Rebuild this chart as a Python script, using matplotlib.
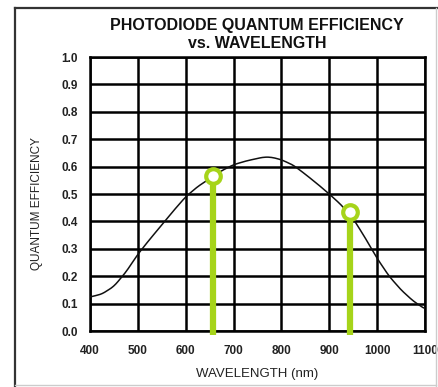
import numpy as np
import matplotlib
matplotlib.use("Agg")
import matplotlib.pyplot as plt
from matplotlib.lines import Line2D

# quantum efficiency curve read at these wavelengths (nm)
wavelength = [400, 425, 450, 475, 500, 525, 550, 575, 600, 625, 650, 675, 700, 725, 750,
              765, 780, 800, 825, 850, 875, 900, 925, 950, 975, 1000, 1025, 1050, 1075, 1100]
efficiency = [0.124, 0.135, 0.163, 0.215, 0.28, 0.335, 0.387, 0.44, 0.49, 0.527, 0.556, 0.585,
              0.607, 0.62, 0.63, 0.635, 0.634, 0.625, 0.605, 0.572, 0.537, 0.50, 0.46, 0.41,
              0.34, 0.265, 0.20, 0.15, 0.11, 0.08]

# highlighted operating points
marker_wl = [657, 943]
marker_qe = [0.567, 0.434]

x_ticks = [400, 500, 600, 700, 800, 900, 1000, 1100]
y_ticks = [0.0, 0.1, 0.2, 0.3, 0.4, 0.5, 0.6, 0.7, 0.8, 0.9, 1.0]

green = '#a6d41a'
plt.rcParams['font.family'] = ['Liberation Sans', 'DejaVu Sans']

fig = plt.figure(figsize=(4.38, 3.87), dpi=100)
ax = fig.add_axes([0.2055, 0.1447, 0.7648, 0.708])

# light smoothing of the sampled points for drawing
xs = np.linspace(400, 1100, 300)
ys = np.interp(xs, wavelength, efficiency)
k = np.ones(7) / 7
ys_s = np.convolve(np.pad(ys, 3, mode='edge'), k, mode='valid')
ax.plot(xs, ys_s, color='#111111', lw=1.1, zorder=3)

for wl, qe in zip(marker_wl, marker_qe):
    ax.plot([wl, wl], [-0.016, qe - 0.02], color=green, lw=4.5, solid_capstyle='butt',
            clip_on=False, zorder=4)
    ax.plot(wl, qe, 'o', ms=10.5, mfc='white', mec=green, mew=3, zorder=5)

ax.set_xlim(400, 1100)
ax.set_ylim(0, 1.0)
ax.set_xticks(x_ticks)
ax.set_yticks(y_ticks)
ax.set_yticklabels(['%.1f' % v for v in y_ticks])
ax.grid(True, color='black', lw=1.8)
ax.set_axisbelow(True)
for s in ax.spines.values():
    s.set_linewidth(1.8)
ax.tick_params(length=0, labelsize=8.5, pad=10)
ax.tick_params(axis='y', pad=9)
for lab in ax.get_xticklabels() + ax.get_yticklabels():
    lab.set_fontweight('bold')
    lab.set_color('#222222')

ax.set_xlabel('WAVELENGTH (nm)', fontsize=9.5, labelpad=8, color='#222222')
ax.set_ylabel('QUANTUM EFFICIENCY', fontsize=8.5, color='#222222')
ax.yaxis.set_label_coords(-0.14, 0.465)

fig.text(0.587, 0.912, 'PHOTODIODE QUANTUM EFFICIENCY\nvs. WAVELENGTH', ha='center',
         va='center', fontsize=11.5, fontweight='bold', linespacing=1.25, color='#111111')

# page frame around the figure
fig.add_artist(Line2D([15 / 438, 15 / 438], [0, 1 - 8 / 387], color='#333333', lw=1.6))
fig.add_artist(Line2D([15 / 438, 1], [1 - 8 / 387, 1 - 8 / 387], color='#333333', lw=1.6))
fig.add_artist(Line2D([436 / 438, 436 / 438], [0, 1 - 8 / 387], color='#cccccc', lw=1))
fig.add_artist(Line2D([15 / 438, 436 / 438], [2 / 387, 2 / 387], color='#cccccc', lw=1))

fig.savefig('out.png', dpi=100)
